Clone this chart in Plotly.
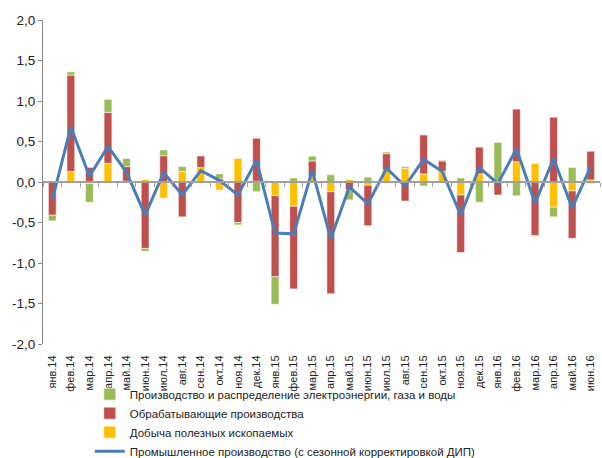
import plotly.graph_objects as go

months = ['янв.14', 'фев.14', 'мар.14', 'апр.14', 'май.14', 'июн.14', 'июл.14', 'авг.14', 'сен.14', 'окт.14', 'ноя.14', 'дек.14',
          'янв.15', 'фев.15', 'мар.15', 'апр.15', 'май.15', 'июн.15', 'июл.15', 'авг.15', 'сен.15', 'окт.15', 'ноя.15', 'дек.15',
          'янв.16', 'фев.16', 'мар.16', 'апр.16', 'май.16', 'июн.16']

mining = [0.00, 0.13, -0.02, 0.23, 0.01, 0.03, -0.20, 0.13, 0.18, -0.10, 0.29, 0.01,
          -0.17, -0.30, 0.07, -0.12, 0.03, -0.04, 0.15, 0.17, 0.10, 0.135, -0.16, 0.10,
          0.01, 0.25, 0.23, -0.31, -0.11, 0.025]
manufacturing = [-0.41, 1.19, 0.18, 0.63, 0.18, -0.82, 0.325, -0.43, 0.145, 0.04, -0.50, 0.53,
                 -1.00, -1.02, 0.19, -1.26, -0.10, -0.50, 0.20, -0.235, 0.48, 0.125, -0.71, 0.33,
                 -0.16, 0.65, -0.66, 0.80, -0.585, 0.355]
utilities = [-0.07, 0.04, -0.23, 0.16, 0.10, -0.035, 0.07, 0.06, 0.00, 0.06, -0.03, -0.12,
             -0.34, 0.05, 0.06, 0.09, -0.12, 0.06, 0.02, 0.02, -0.05, 0.01, 0.05, -0.25,
             0.48, -0.17, -0.01, -0.12, 0.18, -0.02]
industry = [-0.22, 0.68, 0.07, 0.44, 0.12, -0.41, 0.115, -0.16, 0.14, 0.02, -0.16, 0.27,
            -0.63, -0.64, 0.14, -0.70, -0.06, -0.27, 0.17, -0.05, 0.28, 0.13, -0.41, 0.18,
            -0.02, 0.41, -0.26, 0.29, -0.32, 0.19]

y_ticks = [-2.0, -1.5, -1.0, -0.5, 0.0, 0.5, 1.0, 1.5, 2.0]
y_tick_text = ['-2,0', '-1,5', '-1,0', '-0,5', '0,0', '0,5', '1,0', '1,5', '2,0']

names = ['Производство и распределение электроэнергии, газа и воды',
         'Обрабатывающие производства',
         'Добыча полезных ископаемых',
         'Промышленное производство (с сезонной корректировкой ДИП)']

edge = dict(color='rgba(255,255,255,0.55)', width=1)
x_range = [-0.5, len(months) - 0.5]

fig = go.Figure()
fig.add_trace(go.Bar(x=months, y=mining, name=names[2], marker=dict(color='#FFC000', line=edge), legendrank=3, width=0.42))
fig.add_trace(go.Bar(x=months, y=manufacturing, name=names[1], marker=dict(color='#C0504D', line=edge), legendrank=2, width=0.42))
fig.add_trace(go.Bar(x=months, y=utilities, name=names[0], marker=dict(color='#9BBB59', line=edge), legendrank=1, width=0.42))
# helper axis along zero for Excel-like tick marks
fig.add_trace(go.Scatter(x=months, y=[None] * len(months), xaxis='x2', showlegend=False, hoverinfo='skip'))
fig.add_trace(go.Scatter(x=months, y=industry, name=names[3], mode='lines', line=dict(color='#4A7EBB', width=3), legendrank=4))

fig.update_layout(
    width=602, height=458,
    barmode='relative',
    plot_bgcolor='white', paper_bgcolor='white',
    margin=dict(l=43, r=2, t=20, b=114, autoexpand=False),
    font=dict(family='Liberation Sans, Arial, sans-serif', color='#222', size=11),
    showlegend=True,
    legend=dict(orientation='v', x=0.084, xanchor='left', y=-0.11, yanchor='top',
                font=dict(size=11.5), bgcolor='rgba(0,0,0,0)', itemwidth=30, tracegroupgap=0),
    xaxis=dict(type='category', categoryarray=months, categoryorder='array', showline=False,
               ticks='outside', ticklen=6, tickcolor='rgba(0,0,0,0)', tickangle=-90,
               tickfont=dict(size=11, color='#222'), showgrid=False, zeroline=False,
               range=x_range, automargin=False),
    xaxis2=dict(type='category', categoryarray=months, categoryorder='array', overlaying='x',
                anchor='free', position=0.5, range=x_range,
                showline=True, linecolor='#A0A0A0', linewidth=2, ticks='outside', ticklen=4,
                tickcolor='#A0A0A0', tickson='boundaries', showticklabels=False, showgrid=False,
                automargin=False),
    yaxis=dict(range=[-2, 2], tickvals=y_ticks, ticktext=y_tick_text, showline=True,
               linecolor='#888', linewidth=1, ticks='outside', ticklen=4, tickcolor='#888',
               showgrid=False, zeroline=False, tickfont=dict(size=13.5, color='#222'),
               automargin=False),
)

fig.write_html('out.html', config={'displayModeBar': False},
               post_script="document.body.style.margin='0';")
